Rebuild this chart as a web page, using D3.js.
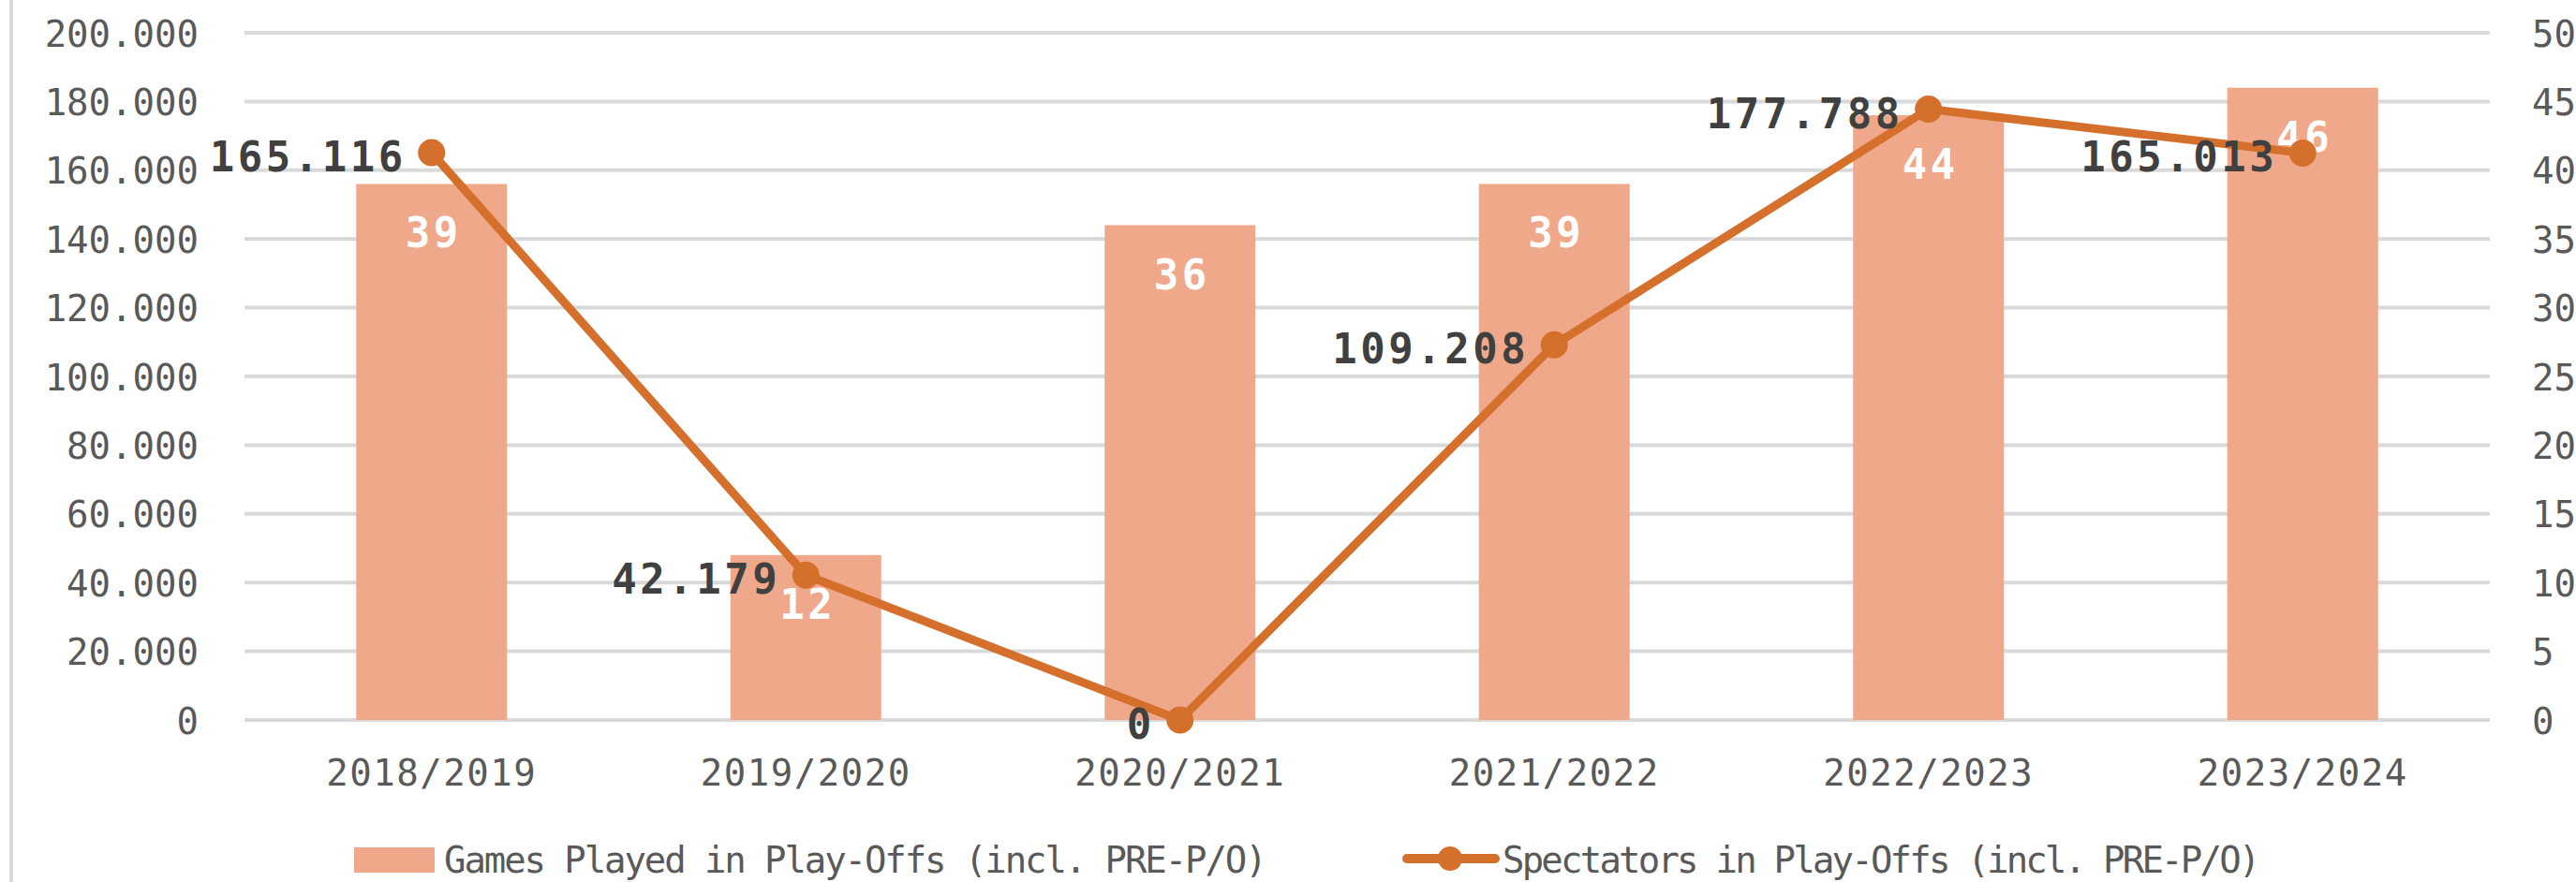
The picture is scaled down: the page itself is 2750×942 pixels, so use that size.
<!DOCTYPE html>
<html>
<head>
<meta charset="utf-8">
<script src="https://cdn.jsdelivr.net/npm/d3@7"></script>
<style>
  html, body { margin: 0; padding: 0; background: #ffffff; }
  svg { display: block; }
  text { font-family: "DejaVu Sans Mono", "Liberation Mono", monospace; }
</style>
</head>
<body>
<svg id="chart" width="2750" height="942"></svg>
<script>
// ---- data ----
const categories = ["2018/2019", "2019/2020", "2020/2021", "2021/2022", "2022/2023", "2023/2024"];
const gamesPlayed = [39, 12, 36, 39, 44, 46];
const spectators = [165116, 42179, 0, 109208, 177788, 165013];
const leftTicks = [0, 20000, 40000, 60000, 80000, 100000, 120000, 140000, 160000, 180000, 200000];
const rightTicks = [0, 5, 10, 15, 20, 25, 30, 35, 40, 45, 50];
const seriesNames = ["Games Played in Play-Offs (incl. PRE-P/O)", "Spectators in Play-Offs (incl. PRE-P/O)"];

// ---- layout ----
const W = 2750, H = 942;
const plot = { left: 261, right: 2658, top: 35, bottom: 769 };
const barColor = "#F0A88A";
const lineColor = "#D4702C";
const gridColor = "#D9D9D9";
const tickColor = "#595959";
const labelDark = "#404040";

const svg = d3.select("#chart");
svg.append("rect").attr("width", W).attr("height", H).attr("fill", "#fff");

// left border line
svg.append("line").attr("x1", 12).attr("x2", 12).attr("y1", 0).attr("y2", H)
  .attr("stroke", gridColor).attr("stroke-width", 4);

const x = d3.scaleBand().domain(categories).range([plot.left, plot.right]).padding(0);
const yL = d3.scaleLinear().domain([0, 200000]).range([plot.bottom, plot.top]);
const yR = d3.scaleLinear().domain([0, 50]).range([plot.bottom, plot.top]);

const fmt = v => d3.format(",")(v).replace(/,/g, ".");

// gridlines
svg.append("g").selectAll("line").data(leftTicks).join("line")
  .attr("x1", plot.left).attr("x2", plot.right)
  .attr("y1", d => yL(d)).attr("y2", d => yL(d))
  .attr("stroke", gridColor).attr("stroke-width", 4);

// left axis
const axL = svg.append("g").attr("transform", `translate(${plot.left},0)`)
  .call(d3.axisLeft(yL).tickValues(leftTicks).tickFormat(fmt).tickSize(0).tickPadding(49));
axL.select(".domain").remove();
axL.selectAll("text").attr("fill", tickColor).attr("font-size", 39).attr("dy", "0.36em");

// right axis
const axR = svg.append("g").attr("transform", `translate(${plot.right},0)`)
  .call(d3.axisRight(yR).tickValues(rightTicks).tickSize(0).tickPadding(45));
axR.select(".domain").remove();
axR.selectAll("text").attr("fill", tickColor).attr("font-size", 39).attr("dy", "0.36em");

// bottom axis
const axB = svg.append("g").attr("transform", `translate(0,${plot.bottom})`)
  .call(d3.axisBottom(x).tickSize(0).tickPadding(0));
axB.select(".domain").remove();
axB.selectAll("text").attr("fill", tickColor).attr("font-size", 39)
  .attr("letter-spacing", 1.5).attr("dy", 0).attr("y", 70);

// bars
const barW = x.bandwidth() * 0.403;
const cx = d => x(d) + x.bandwidth() / 2;
svg.append("g").selectAll("rect").data(categories).join("rect")
  .attr("x", (d) => cx(d) - barW / 2)
  .attr("width", barW)
  .attr("y", (d, i) => yR(gamesPlayed[i]))
  .attr("height", (d, i) => plot.bottom - yR(gamesPlayed[i]))
  .attr("fill", barColor);

// bar labels
svg.append("g").selectAll("text").data(categories).join("text")
  .attr("x", d => cx(d) + 2)
  .attr("y", (d, i) => yR(gamesPlayed[i]) + 68)
  .attr("text-anchor", "middle")
  .attr("fill", "#ffffff").attr("font-weight", "bold").attr("font-size", 44)
  .attr("letter-spacing", 3.5)
  .text((d, i) => gamesPlayed[i]);

// line
const line = d3.line().x((d, i) => cx(categories[i])).y(d => yL(d));
svg.append("path").datum(spectators).attr("d", line)
  .attr("fill", "none").attr("stroke", lineColor).attr("stroke-width", 9)
  .attr("stroke-linejoin", "round").attr("stroke-linecap", "round");

svg.append("g").selectAll("circle").data(spectators).join("circle")
  .attr("cx", (d, i) => cx(categories[i])).attr("cy", d => yL(d))
  .attr("r", 14.5).attr("fill", lineColor);

// line labels
svg.append("g").selectAll("text").data(spectators).join("text")
  .attr("x", (d, i) => cx(categories[i]) - 27)
  .attr("y", d => yL(d) + 20)
  .attr("text-anchor", "end")
  .attr("fill", labelDark).attr("font-weight", "bold").attr("font-size", 44)
  .attr("letter-spacing", 3.5)
  .text(d => fmt(d));

// legend
const lg = svg.append("g");
const legY = 918;
lg.append("rect").attr("x", 378).attr("y", 905).attr("width", 86).attr("height", 27).attr("fill", barColor);
lg.append("text").attr("x", 474).attr("y", legY + 14).attr("fill", tickColor)
  .attr("font-size", 39).attr("letter-spacing", -2.1).text(seriesNames[0]);

lg.append("line").attr("x1", 1502).attr("x2", 1596).attr("y1", legY - 1).attr("y2", legY - 1)
  .attr("stroke", lineColor).attr("stroke-width", 10).attr("stroke-linecap", "round");
lg.append("circle").attr("cx", 1548).attr("cy", legY - 1).attr("r", 13).attr("fill", lineColor);
lg.append("text").attr("x", 1604).attr("y", legY + 14).attr("fill", tickColor)
  .attr("font-size", 39).attr("letter-spacing", -2.8).text(seriesNames[1]);
</script>
</body>
</html>
